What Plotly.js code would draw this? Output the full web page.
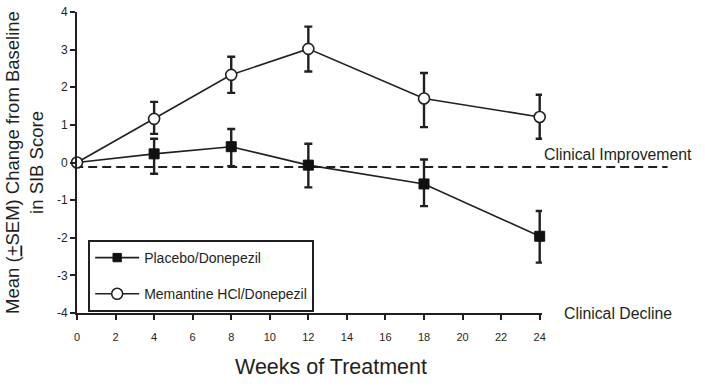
<!DOCTYPE html>
<html>
<head>
<meta charset="utf-8">
<script src="https://cdn.plot.ly/plotly-3.0.1.min.js"></script>
<style>html,body{margin:0;padding:0;background:#fff;}#chart{width:705px;height:391px;}</style>
</head>
<body>
<div id="chart"></div>
<script>
// Data
const weeks = [0, 4, 8, 12, 18, 24];
const placeboMean  = [0, 0.23, 0.42, -0.07, -0.57, -1.96];
const placeboUpper = [0, 0.63, 0.89, 0.50, 0.08, -1.29];
const placeboLower = [0, -0.30, -0.10, -0.66, -1.16, -2.66];
const memantineMean  = [0, 1.16, 2.33, 3.02, 1.70, 1.21];
const memantineUpper = [0, 1.61, 2.81, 3.61, 2.38, 1.80];
const memantineLower = [0, 0.76, 1.85, 2.42, 0.94, 0.63];
const referenceLevel = -0.12;
const yTickVals = [4, 3, 2, 1, 0, -1, -2, -3, -4];
const yTickText = ['4', '3', '2', '1', '0', '-1', '-2', '-3', '-4'];
const seriesNames = ['Placebo/Donepezil', 'Memantine HCl/Donepezil'];

const ink = '#231f20';
const font = 'Liberation Sans, Arial, Helvetica, sans-serif';

const plus = (m, u) => u.map((v, i) => +(v - m[i]).toFixed(3));
const minus = (m, l) => l.map((v, i) => +(m[i] - v).toFixed(3));

const placebo = {
  x: weeks, y: placeboMean, name: seriesNames[0], type: 'scatter', mode: 'lines+markers',
  legendgroup: 'a', cliponaxis: false, opacity: 1,
  line: {color: ink, width: 1.6},
  marker: {symbol: 'square', color: '#111111', opacity: 1, size: weeks.map(w => w === 0 ? 0 : 10),
           line: {color: '#111111', width: 1}},
  error_y: {type: 'data', symmetric: false, array: plus(placeboMean, placeboUpper),
            arrayminus: minus(placeboMean, placeboLower), color: ink, thickness: 2.4, width: 4}
};
const memantine = {
  x: weeks, y: memantineMean, name: seriesNames[1], type: 'scatter', mode: 'lines+markers',
  legendgroup: 'b', cliponaxis: false, opacity: 1,
  line: {color: ink, width: 1.6},
  marker: {symbol: 'circle', color: '#ffffff', opacity: 1, size: 11, line: {color: ink, width: 1.6}},
  error_y: {type: 'data', symmetric: false, array: plus(memantineMean, memantineUpper),
            arrayminus: minus(memantineMean, memantineLower), color: ink, thickness: 2.4, width: 4}
};

const layout = {
  width: 705, height: 391,
  margin: {l: 77, r: 163, t: 12, b: 78},
  paper_bgcolor: '#fff', plot_bgcolor: '#fff',
  font: {family: font, color: ink},
  showlegend: true,
  legend: {x: 0.024, y: 0.2425, xanchor: 'left', yanchor: 'top',
           bordercolor: ink, borderwidth: 2, bgcolor: '#fff',
           font: {size: 14, family: font, color: ink},
           traceorder: 'grouped', tracegroupgap: 15, itemwidth: 44},
  xaxis: {range: [0, 24.12], tickvals: [0, 2, 4, 6, 8, 10, 12, 14, 16, 18, 20, 22, 24],
          showgrid: false, zeroline: false,
          showline: true, linecolor: ink, linewidth: 2,
          ticks: 'outside', ticklen: 5, tickwidth: 2, tickcolor: ink,
          tickfont: {size: 11, family: font, color: ink}, ticklabelstandoff: 8},
  yaxis: {range: [-4, 4], tickvals: yTickVals, ticktext: yTickText,
          showgrid: false, zeroline: false,
          showline: true, linecolor: ink, linewidth: 2,
          ticks: 'outside', ticklen: 5, tickwidth: 2, tickcolor: ink,
          tickfont: {size: 12, family: font, color: ink},
          title: {text: 'Mean (<u>+</u>SEM) Change from Baseline<br>in SIB Score',
                  font: {size: 18.5, family: font, color: ink}, standoff: 8}},
  shapes: [{type: 'line', xref: 'paper', yref: 'y', x0: -0.006, x1: 1.27,
            y0: referenceLevel, y1: referenceLevel,
            line: {color: ink, width: 2, dash: '9px,5px'}, layer: 'below'}],
  annotations: [
    {text: 'Weeks of Treatment', xref: 'paper', yref: 'paper', x: 0.546, y: -0.179,
     xanchor: 'center', yanchor: 'middle', showarrow: false,
     font: {size: 21.5, family: font, color: ink}},
    {text: 'Clinical Improvement', xref: 'paper', yref: 'y', x: 1.0, y: 0.2,
     xanchor: 'left', yanchor: 'middle', showarrow: false,
     font: {size: 15.8, family: font, color: ink}},
    {text: 'Clinical Decline', xref: 'paper', yref: 'y', x: 1.043, y: -4.0,
     xanchor: 'left', yanchor: 'middle', showarrow: false,
     font: {size: 15.8, family: font, color: ink}}
  ]
};

Plotly.newPlot('chart', [placebo, memantine], layout, {displayModeBar: false, staticPlot: true});
</script>
</body>
</html>
